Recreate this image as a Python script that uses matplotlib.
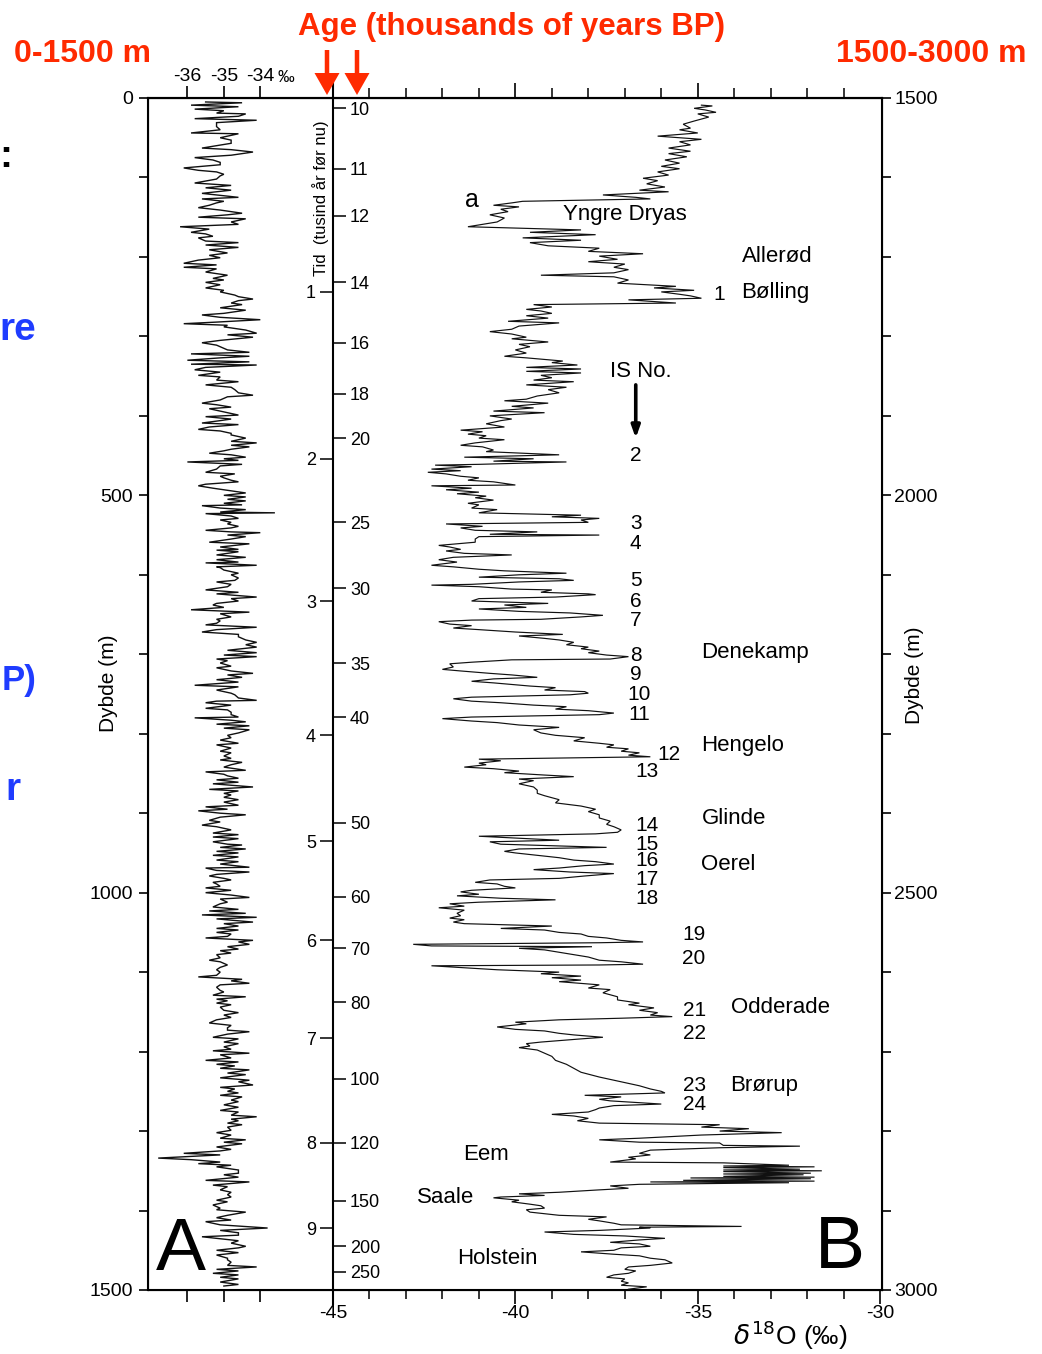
import matplotlib
matplotlib.use("Agg")
import matplotlib.pyplot as plt
from matplotlib.patches import FancyArrow

# =====================================================
# =========       Constants and options       =========
# =====================================================

FIG_W, FIG_H, DPI = 1042, 1354, 100
FRAME_L, FRAME_T, FRAME_R, FRAME_B = 148, 98, 882, 1290   # plot frame, figure pixels
X_AGE_LINE = 333                                           # pixel column of the time scale
RED = "#ff2a00"
BLUE = "#1f3cff"

plt.rcParams["font.family"] = ["Liberation Sans", "DejaVu Sans"]

# Core A: 0-1500 m (Holocene), delta-18O in permil
CORE_A_DEPTH = [
    5, 6, 9, 11, 14, 16, 19, 20, 23, 26, 28, 31, 36, 40, 44, 45, 50, 53, 57, 60,
    63, 65, 68, 72, 75, 78, 81, 84, 88, 91, 93, 96, 98, 102, 107, 110, 113, 116, 120, 125,
    127, 130, 132, 135, 138, 141, 145, 147, 150, 152, 156, 159, 162, 165, 169, 171, 174, 176, 180, 182,
    185, 188, 191, 195, 198, 201, 204, 208, 210, 213, 215, 219, 223, 227, 229, 232, 235, 239, 242, 244,
    248, 250, 253, 255, 258, 260, 264, 267, 271, 273, 276, 279, 282, 284, 286, 288, 292, 296, 298, 301,
    305, 308, 311, 313, 317, 320, 322, 325, 327, 330, 332, 335, 336, 339, 342, 345, 349, 351, 355, 357,
    361, 364, 367, 371, 374, 376, 380, 384, 386, 389, 391, 395, 399, 401, 404, 406, 409, 411, 414, 417,
    419, 422, 424, 428, 432, 434, 437, 439, 442, 444, 447, 449, 452, 454, 456, 458, 461, 463, 467, 471,
    473, 476, 478, 481, 483, 486, 488, 491, 493, 497, 500, 502, 505, 507, 510, 512, 513, 516, 518, 521,
    522, 523, 526, 529, 531, 534, 536, 539, 541, 544, 546, 547, 550, 552, 555, 559, 561, 565, 568, 569,
    571, 575, 578, 581, 584, 585, 588, 590, 591, 594, 598, 600, 604, 607, 609, 612, 615, 619, 622, 624,
    628, 630, 633, 636, 638, 641, 644, 647, 649, 653, 656, 658, 661, 663, 666, 669, 672, 675, 678, 682,
    685, 688, 691, 695, 698, 701, 703, 706, 708, 711, 715, 717, 721, 724, 726, 729, 732, 735, 739, 741,
    745, 749, 751, 755, 758, 759, 761, 764, 768, 770, 773, 776, 779, 780, 783, 785, 788, 790, 793, 795,
    799, 802, 805, 808, 812, 814, 818, 822, 824, 828, 831, 833, 836, 839, 842, 846, 848, 851, 853, 856,
    858, 861, 863, 867, 870, 872, 875, 877, 880, 883, 886, 890, 892, 895, 897, 900, 902, 905, 909, 911,
    915, 917, 921, 925, 927, 930, 932, 936, 939, 940, 943, 945, 948, 950, 953, 955, 959, 961, 964, 968,
    969, 972, 974, 977, 979, 982, 984, 987, 989, 992, 994, 997, 1000, 1003, 1006, 1008, 1012, 1014, 1018, 1021,
    1023, 1026, 1028, 1031, 1033, 1037, 1039, 1042, 1045, 1047, 1050, 1052, 1055, 1057, 1060, 1062, 1065, 1068, 1071, 1073,
    1076, 1078, 1082, 1085, 1087, 1091, 1094, 1097, 1100, 1104, 1106, 1109, 1111, 1114, 1116, 1119, 1123, 1125, 1129, 1131,
    1134, 1136, 1139, 1141, 1144, 1148, 1151, 1154, 1157, 1160, 1164, 1167, 1170, 1173, 1175, 1178, 1182, 1184, 1188, 1190,
    1194, 1197, 1199, 1202, 1204, 1208, 1211, 1213, 1216, 1218, 1221, 1223, 1227, 1229, 1233, 1236, 1238, 1242, 1245, 1247,
    1250, 1252, 1255, 1257, 1261, 1263, 1267, 1270, 1274, 1276, 1280, 1282, 1285, 1287, 1290, 1292, 1295, 1299, 1302, 1305,
    1309, 1311, 1314, 1316, 1320, 1323, 1325, 1328, 1330, 1334, 1336, 1339, 1341, 1343, 1345, 1349, 1353, 1355, 1358, 1362,
    1364, 1368, 1370, 1374, 1377, 1380, 1383, 1387, 1389, 1393, 1397, 1399, 1402, 1406, 1409, 1412, 1414, 1418, 1422, 1425,
    1428, 1431, 1433, 1436, 1438, 1441, 1445, 1447, 1450, 1453, 1456, 1460, 1462, 1465, 1469, 1471, 1474, 1476, 1479, 1481,
    1484, 1486, 1490, 1493, 1495,
]
CORE_A_D18O = [
    -35.5, -34.5, -35.9, -34.6, -35.8, -35.0, -35.2, -34.4, -34.6, -35.8,
    -34.1, -35.2, -35.2, -35.1, -35.9, -34.6, -35.1, -34.8, -34.8, -35.2,
    -35.6, -34.8, -34.2, -34.8, -35.8, -35.3, -35.1, -35.1, -36.1, -35.7,
    -35.2, -35.0, -35.1, -35.2, -35.8, -34.8, -35.5, -34.8, -35.6, -34.6,
    -35.6, -35.0, -35.2, -35.4, -35.7, -35.1, -34.5, -34.9, -35.7, -34.4,
    -34.8, -34.6, -36.2, -35.4, -35.9, -35.5, -35.3, -35.7, -35.5, -34.6,
    -35.5, -34.6, -35.4, -34.9, -35.4, -35.1, -35.7, -36.1, -35.2, -36.1,
    -35.2, -35.5, -34.9, -35.3, -35.0, -35.5, -35.1, -35.5, -35.0, -35.1,
    -34.7, -34.6, -34.2, -34.6, -34.8, -34.5, -35.1, -34.4, -35.0, -35.6,
    -35.1, -34.0, -35.2, -36.1, -34.9, -35.0, -34.4, -34.1, -34.9, -34.2,
    -35.1, -35.6, -35.2, -35.1, -34.9, -34.3, -35.9, -34.3, -35.1, -36.0,
    -34.3, -35.9, -34.1, -35.5, -35.8, -35.1, -35.7, -35.1, -35.2, -34.6,
    -35.5, -34.8, -34.7, -34.6, -34.2, -34.9, -35.1, -35.6, -35.2, -34.8,
    -35.4, -35.0, -34.6, -35.5, -34.8, -35.1, -35.6, -34.6, -35.4, -35.7,
    -35.1, -34.8, -34.8, -34.4, -34.8, -34.1, -34.8, -34.3, -34.8, -35.0,
    -35.4, -34.8, -34.4, -35.0, -34.6, -36.0, -34.5, -35.1, -35.2, -35.5,
    -34.7, -35.1, -35.0, -34.8, -34.6, -35.5, -35.7, -35.3, -35.0, -34.4,
    -35.0, -34.4, -34.9, -34.4, -35.0, -34.5, -35.6, -35.1, -34.4, -35.1,
    -33.6, -35.5, -34.8, -34.6, -35.1, -34.8, -34.9, -34.6, -34.8, -35.5,
    -34.8, -34.0, -34.9, -34.4, -34.8, -35.4, -34.3, -35.1, -34.6, -35.2,
    -34.6, -35.2, -34.4, -35.2, -34.6, -35.5, -34.1, -35.2, -35.1, -35.0,
    -34.6, -34.8, -34.6, -34.7, -35.2, -34.8, -34.9, -35.5, -34.6, -35.2,
    -34.1, -34.8, -34.6, -35.2, -35.3, -35.0, -35.9, -34.3, -35.1, -34.8,
    -35.2, -35.1, -35.2, -35.5, -34.1, -35.2, -35.6, -34.6, -34.6, -34.4,
    -34.1, -34.4, -34.1, -34.9, -34.1, -35.0, -34.1, -35.2, -34.9, -35.1,
    -34.8, -35.2, -34.8, -34.2, -34.9, -34.5, -35.2, -34.6, -35.8, -34.6,
    -35.2, -34.8, -34.7, -34.6, -34.1, -35.2, -35.5, -34.8, -35.5, -34.9,
    -34.8, -34.8, -34.6, -35.8, -34.8, -34.4, -35.2, -34.3, -35.0, -34.3,
    -34.6, -34.9, -34.8, -35.1, -34.6, -35.2, -34.8, -35.1, -34.8, -35.0,
    -34.8, -35.1, -34.5, -34.8, -35.0, -34.4, -35.5, -35.0, -34.9, -34.6,
    -35.2, -34.6, -35.3, -34.2, -35.4, -34.6, -35.0, -34.8, -35.0, -34.6,
    -35.0, -34.6, -35.5, -34.9, -35.7, -35.1, -34.4, -35.1, -35.4, -35.1,
    -35.6, -35.2, -34.8, -35.3, -34.6, -35.3, -34.6, -35.3, -34.9, -34.5,
    -35.1, -34.4, -35.2, -34.6, -35.3, -34.6, -35.2, -34.6, -35.1, -34.3,
    -35.5, -35.2, -34.3, -35.2, -35.4, -35.0, -34.8, -35.3, -35.2, -35.1,
    -35.5, -34.8, -35.5, -34.8, -34.3, -35.1, -34.9, -35.1, -35.3, -34.6,
    -35.4, -34.4, -35.6, -34.1, -35.2, -34.2, -35.0, -34.6, -35.2, -34.6,
    -35.2, -34.8, -34.9, -35.5, -34.2, -34.6, -34.3, -34.9, -34.6, -35.1,
    -34.8, -35.2, -35.1, -35.4, -35.1, -34.9, -35.1, -35.2, -35.1, -35.2,
    -35.7, -34.5, -34.8, -34.3, -35.1, -35.2, -35.1, -35.0, -35.3, -34.4,
    -35.2, -34.9, -35.2, -34.8, -35.1, -35.0, -34.6, -35.0, -34.8, -35.2,
    -35.4, -34.8, -34.9, -34.9, -34.3, -34.9, -35.3, -34.6, -35.0, -34.6,
    -35.0, -34.8, -35.3, -34.3, -35.1, -34.8, -35.5, -34.6, -35.2, -34.7,
    -35.1, -34.3, -34.9, -34.4, -35.1, -34.3, -34.6, -34.2, -35.1, -34.7,
    -34.9, -34.6, -35.1, -34.5, -34.8, -34.6, -35.0, -34.6, -35.1, -34.6,
    -34.8, -34.1, -34.8, -34.6, -34.9, -34.5, -34.9, -34.8, -35.2, -34.8,
    -35.1, -34.4, -35.0, -34.5, -35.2, -34.8, -35.1, -36.1, -35.1, -36.8,
    -35.9, -35.1, -35.7, -34.8, -35.2, -34.6, -34.6, -35.0, -34.6, -35.5,
    -34.3, -35.3, -34.9, -35.1, -34.8, -34.9, -34.8, -35.2, -34.9, -35.3,
    -35.1, -35.2, -34.4, -34.9, -35.2, -34.8, -35.5, -35.1, -33.8, -35.1,
    -34.6, -34.6, -35.6, -35.0, -34.6, -34.8, -34.4, -34.6, -35.2, -34.6,
    -35.2, -34.9, -34.9, -34.8, -34.9, -34.1, -35.2, -34.6, -35.3, -34.6,
    -35.1, -34.6, -35.1, -34.6, -35.0,
]

# Core B: 1500-3000 m (last glacial and older), delta-18O in permil
CORE_B_DEPTH = [
    1509, 1510, 1513, 1515, 1518, 1520, 1524, 1529, 1533, 1538, 1540, 1544, 1548, 1552, 1555, 1559, 1563, 1567, 1570, 1574,
    1578, 1582, 1586, 1589, 1593, 1597, 1601, 1604, 1608, 1612, 1616, 1618, 1622, 1625, 1627, 1630, 1632, 1635, 1637, 1640,
    1643, 1647, 1651, 1656, 1662, 1666, 1669, 1672, 1676, 1679, 1682, 1686, 1689, 1693, 1696, 1699, 1703, 1706, 1709, 1713,
    1716, 1720, 1723, 1725, 1729, 1733, 1737, 1739, 1742, 1744, 1747, 1749, 1752, 1754, 1758, 1760, 1763, 1766, 1768, 1771,
    1774, 1777, 1781, 1783, 1787, 1791, 1794, 1797, 1801, 1803, 1807, 1810, 1813, 1817, 1821, 1825, 1827, 1831, 1833, 1836,
    1839, 1841, 1844, 1846, 1849, 1852, 1855, 1857, 1861, 1864, 1867, 1871, 1875, 1879, 1881, 1884, 1888, 1890, 1894, 1896,
    1900, 1904, 1906, 1910, 1914, 1918, 1920, 1923, 1925, 1928, 1930, 1934, 1937, 1939, 1943, 1945, 1949, 1952, 1954, 1957,
    1958, 1961, 1962, 1964, 1967, 1969, 1971, 1973, 1976, 1978, 1981, 1983, 1987, 1988, 1991, 1993, 1996, 1998, 2001, 2003,
    2006, 2010, 2012, 2016, 2018, 2022, 2025, 2027, 2029, 2031, 2034, 2036, 2039, 2041, 2044, 2046, 2049, 2050, 2052, 2055,
    2059, 2063, 2065, 2068, 2070, 2073, 2075, 2078, 2081, 2084, 2088, 2090, 2093, 2095, 2098, 2100, 2103, 2105, 2107, 2109,
    2112, 2113, 2115, 2118, 2119, 2122, 2124, 2125, 2128, 2130, 2133, 2136, 2138, 2141, 2143, 2146, 2148, 2151, 2153, 2156,
    2157, 2159, 2162, 2164, 2167, 2169, 2172, 2175, 2177, 2180, 2182, 2185, 2188, 2191, 2193, 2196, 2198, 2201, 2203, 2206,
    2207, 2210, 2212, 2216, 2219, 2221, 2224, 2226, 2229, 2231, 2234, 2236, 2240, 2242, 2245, 2247, 2249, 2251, 2254, 2256,
    2259, 2261, 2264, 2266, 2269, 2271, 2274, 2276, 2279, 2281, 2284, 2286, 2289, 2292, 2295, 2299, 2302, 2305, 2309, 2312,
    2314, 2317, 2319, 2322, 2324, 2327, 2329, 2332, 2334, 2337, 2339, 2342, 2344, 2347, 2349, 2352, 2354, 2357, 2359, 2363,
    2367, 2371, 2375, 2378, 2383, 2387, 2391, 2395, 2398, 2402, 2406, 2410, 2414, 2417, 2421, 2424, 2426, 2429, 2431, 2434,
    2436, 2439, 2443, 2445, 2448, 2450, 2454, 2456, 2459, 2461, 2464, 2466, 2469, 2471, 2474, 2476, 2479, 2482, 2484, 2487,
    2489, 2492, 2494, 2497, 2499, 2502, 2504, 2507, 2509, 2512, 2514, 2517, 2519, 2522, 2526, 2529, 2532, 2534, 2537, 2539,
    2542, 2545, 2547, 2550, 2552, 2555, 2557, 2560, 2562, 2563, 2565, 2567, 2568, 2570, 2572, 2575, 2578, 2581, 2585, 2587,
    2590, 2591, 2592, 2595, 2597, 2600, 2602, 2605, 2607, 2610, 2612, 2616, 2620, 2622, 2626, 2631, 2635, 2639, 2641, 2645,
    2648, 2651, 2654, 2656, 2658, 2660, 2663, 2665, 2669, 2672, 2674, 2677, 2679, 2682, 2684, 2688, 2690, 2693, 2695, 2698,
    2702, 2706, 2711, 2716, 2721, 2726, 2732, 2736, 2740, 2743, 2747, 2750, 2752, 2755, 2757, 2760, 2762, 2766, 2768, 2771,
    2773, 2776, 2779, 2781, 2784, 2787, 2790, 2792, 2795, 2797, 2800, 2802, 2805, 2809, 2811, 2814, 2815, 2818, 2819, 2821,
    2824, 2828, 2830, 2833, 2835, 2839, 2840, 2843, 2844, 2845, 2846, 2848, 2849, 2850, 2851, 2853, 2854, 2855, 2857, 2858,
    2859, 2860, 2862, 2863, 2864, 2865, 2867, 2869, 2872, 2874, 2877, 2879, 2881, 2883, 2884, 2887, 2889, 2892, 2894, 2897,
    2899, 2902, 2906, 2908, 2911, 2913, 2916, 2918, 2920, 2921, 2922, 2925, 2927, 2930, 2932, 2935, 2937, 2940, 2942, 2945,
    2947, 2950, 2952, 2955, 2957, 2960, 2962, 2966, 2969, 2971, 2974, 2976, 2979, 2981, 2984, 2986, 2989, 2991, 2994, 2996,
    2999,
]
CORE_B_D18O = [
    -34.9, -34.6, -35.1, -34.8, -34.5, -35.0, -34.7, -35.1, -35.4, -35.2,
    -35.5, -35.0, -36.1, -34.9, -35.5, -35.2, -35.8, -35.2, -35.8, -35.3,
    -35.9, -35.5, -36.0, -35.5, -36.1, -35.8, -36.5, -36.1, -36.4, -35.9,
    -36.6, -35.8, -37.6, -36.7, -36.3, -39.8, -40.1, -40.6, -39.9, -40.4,
    -40.2, -40.7, -40.3, -40.5, -41.3, -38.2, -39.6, -37.8, -39.8, -38.2,
    -39.6, -39.1, -37.7, -38.0, -36.5, -37.7, -37.2, -38.0, -37.0, -37.3,
    -36.9, -37.3, -39.3, -37.3, -36.9, -37.2, -35.6, -36.2, -35.1, -36.0,
    -35.5, -35.2, -34.9, -36.9, -35.6, -39.5, -39.0, -39.7, -39.3, -39.0,
    -39.7, -39.1, -40.2, -38.8, -39.9, -40.1, -40.7, -40.1, -39.7, -40.1,
    -39.1, -39.9, -39.6, -40.0, -39.7, -40.3, -39.7, -38.7, -39.0, -38.3,
    -39.7, -38.2, -39.7, -38.2, -39.3, -39.0, -39.5, -38.4, -39.7, -38.6,
    -39.1, -38.8, -39.4, -39.7, -40.3, -39.1, -40.1, -39.5, -40.6, -39.2,
    -40.7, -40.1, -40.4, -40.8, -40.3, -41.5, -40.9, -41.3, -40.8, -41.0,
    -40.3, -41.1, -41.5, -40.9, -40.6, -40.8, -38.8, -41.4, -39.5, -40.6,
    -38.6, -41.0, -42.2, -41.2, -42.3, -41.5, -42.4, -41.9, -41.5, -41.0,
    -41.3, -40.6, -40.0, -42.3, -41.2, -41.9, -41.0, -41.6, -40.8, -41.1,
    -40.6, -41.3, -41.0, -41.2, -40.5, -41.0, -38.2, -39.0, -37.7, -38.2,
    -38.0, -41.9, -40.9, -41.5, -41.1, -39.4, -40.7, -37.7, -41.0, -41.1,
    -41.1, -42.1, -41.8, -41.5, -41.9, -41.4, -40.1, -41.7, -42.1, -41.6,
    -42.3, -41.7, -41.0, -40.3, -38.6, -39.9, -41.0, -38.8, -38.4, -39.9,
    -41.2, -42.3, -41.0, -40.1, -39.0, -39.3, -38.0, -37.8, -38.9, -41.0,
    -41.2, -39.1, -40.3, -39.7, -41.0, -39.9, -38.5, -37.6, -38.2, -39.3,
    -41.2, -42.1, -41.8, -41.2, -41.7, -41.0, -40.0, -38.7, -39.9, -39.2,
    -38.8, -38.4, -38.6, -38.0, -38.2, -37.7, -38.0, -37.5, -36.9, -37.4,
    -40.1, -41.2, -41.8, -41.7, -42.0, -41.5, -40.7, -40.1, -39.4, -40.6,
    -41.2, -40.6, -39.6, -38.9, -39.2, -38.1, -38.0, -38.5, -41.2, -41.7,
    -41.2, -40.4, -39.5, -38.6, -38.9, -38.0, -37.3, -37.7, -41.2, -42.0,
    -41.2, -40.5, -39.9, -38.8, -39.5, -39.3, -38.9, -38.1, -38.4, -37.7,
    -37.3, -37.5, -36.9, -37.1, -36.6, -36.9, -36.3, -41.0, -40.4, -41.0,
    -40.8, -41.4, -40.6, -39.9, -40.3, -39.2, -38.4, -39.9, -39.5, -39.9,
    -39.5, -39.4, -39.4, -39.2, -38.8, -38.9, -38.2, -37.8, -38.0, -37.7,
    -37.7, -37.4, -37.5, -37.3, -37.1, -37.2, -37.8, -41.0, -40.1, -38.8,
    -40.7, -40.4, -37.5, -39.9, -40.3, -40.0, -39.2, -38.8, -38.4, -37.8,
    -37.3, -38.1, -38.8, -39.5, -38.5, -37.3, -38.1, -38.8, -40.7, -41.1,
    -40.5, -40.3, -40.0, -41.2, -41.5, -41.0, -41.6, -40.4, -38.9, -41.0,
    -41.8, -41.4, -42.1, -41.4, -41.6, -41.5, -41.8, -41.4, -41.7, -41.4,
    -39.0, -40.4, -39.2, -38.8, -38.2, -38.0, -37.5, -37.1, -36.5, -37.7,
    -42.8, -42.3, -37.9, -39.9, -39.2, -38.8, -38.4, -38.0, -37.7, -37.1,
    -36.5, -37.7, -42.3, -41.2, -40.5, -38.8, -39.3, -38.2, -39.0, -38.2,
    -38.8, -37.7, -38.0, -37.4, -37.6, -37.2, -37.2, -36.6, -36.9, -36.2,
    -36.6, -36.1, -36.3, -35.7, -37.1, -38.8, -40.0, -39.7, -40.5, -40.0,
    -39.2, -38.8, -38.4, -37.6, -38.2, -39.3, -39.7, -39.6, -39.9, -39.4,
    -39.2, -39.0, -38.9, -38.6, -38.4, -38.2, -37.7, -37.3, -36.9, -36.6,
    -36.3, -36.0, -35.9, -38.1, -37.1, -37.7, -37.4, -36.0, -37.3, -37.7,
    -37.8, -38.0, -39.0, -38.4, -38.0, -38.3, -37.7, -34.4, -34.9, -33.6,
    -34.4, -32.7, -34.9, -36.6, -37.7, -36.6, -34.4, -34.3, -32.2, -34.4,
    -36.3, -36.6, -36.3, -36.9, -36.7, -37.4, -34.3, -32.5, -34.3, -31.8,
    -34.3, -32.2, -34.3, -31.6, -34.3, -31.9, -34.3, -32.1, -34.3, -31.8,
    -35.2, -31.9, -35.4, -31.8, -36.3, -32.5, -36.6, -37.4, -36.9, -37.7,
    -38.8, -39.9, -39.2, -40.4, -40.6, -39.9, -40.1, -39.6, -39.3, -39.2,
    -39.7, -39.6, -38.8, -37.5, -38.0, -37.7, -37.3, -37.1, -33.8, -36.6,
    -36.3, -37.7, -39.2, -38.4, -37.0, -35.9, -36.6, -37.4, -36.6, -36.3,
    -37.1, -37.3, -38.2, -37.3, -36.6, -36.3, -35.9, -35.7, -36.3, -36.9,
    -37.0, -36.7, -36.9, -37.3, -37.5, -37.0, -37.1, -36.9, -37.1, -36.4,
    -36.9,
]

# Time scale: thousands of years before present at given core depths
AGE_A_KA = [1, 2, 3, 4, 5, 6, 7, 8, 9]
AGE_A_DEPTH = [244, 454, 633, 802, 935, 1060, 1183, 1315, 1422]
AGE_B_KA = [10, 11, 12, 14, 16, 18, 20, 25, 30, 35, 40, 50, 60, 70, 80, 100, 120, 150, 200, 250]
AGE_B_DEPTH = [1513, 1589, 1648, 1732, 1808, 1872, 1928, 2034, 2117, 2211,
               2279, 2412, 2505, 2570, 2638, 2734, 2815, 2888, 2945, 2977]

# Interstadial numbers (label, delta-18O, depth)
IS_LABELS = [
    ("1", -34.4, 1747), ("2", -36.7, 1950), ("3", -36.7, 2035), ("4", -36.7, 2061),
    ("5", -36.7, 2107), ("6", -36.7, 2133), ("7", -36.7, 2158), ("8", -36.7, 2201),
    ("9", -36.7, 2226), ("10", -36.6, 2251), ("11", -36.6, 2276), ("12", -35.8, 2326),
    ("13", -36.4, 2348), ("14", -36.4, 2416), ("15", -36.4, 2439), ("16", -36.4, 2460),
    ("17", -36.4, 2484), ("18", -36.4, 2507), ("19", -35.1, 2553), ("20", -35.1, 2583),
    ("21", -35.1, 2648), ("22", -35.1, 2677), ("23", -35.1, 2743), ("24", -35.1, 2766),
]
# Named climate periods (label, delta-18O, depth, alignment)
PERIOD_LABELS = [
    ("a", -41.2, 1628, "center"), ("Yngre Dryas", -37.0, 1646, "center"),
    ("Allerød", -33.8, 1699, "left"), ("Bølling", -33.8, 1745, "left"),
    ("IS No.", -37.4, 1844, "left"), ("Denekamp", -34.9, 2198, "left"),
    ("Hengelo", -34.9, 2315, "left"), ("Glinde", -34.9, 2407, "left"),
    ("Oerel", -34.9, 2464, "left"), ("Odderade", -34.1, 2644, "left"),
    ("Brørup", -34.1, 2743, "left"), ("Eem", -40.8, 2829, "center"),
    ("Saale", -41.9, 2883, "center"), ("Holstein", -40.5, 2960, "center"),
]


# =====================================================
# =========           Functions               =========
# =====================================================

def fx(px):
    return px / FIG_W


def fy(py):
    return 1 - py / FIG_H


def frame_rect():
    return [fx(FRAME_L), fy(FRAME_B), (FRAME_R - FRAME_L) / FIG_W, (FRAME_B - FRAME_T) / FIG_H]


def pt(px):
    return px * 72 / DPI


def hide_frame(ax):
    ax.patch.set_visible(False)
    for spine in ax.spines.values():
        spine.set_visible(False)


def add_time_scale(fig):
    """Zero-width axes on the -45 line carrying both time scales."""
    axt = fig.add_axes([fx(X_AGE_LINE), fy(FRAME_B), 1e-6, (FRAME_B - FRAME_T) / FIG_H])
    hide_frame(axt)
    axt.set_xticks([])
    axt.set_ylim(1500, 0)
    axt.set_yticks(AGE_A_DEPTH, [str(k) for k in AGE_A_KA])
    axt.tick_params(axis="y", direction="out", length=pt(13), width=1.1, pad=pt(4), labelsize=13)

    axr = axt.twinx()
    hide_frame(axr)
    axr.set_ylim(3000, 1500)
    axr.set_yticks(AGE_B_DEPTH, [str(k) for k in AGE_B_KA])
    axr.tick_params(axis="y", direction="out", length=pt(13), width=1.1, pad=pt(4), labelsize=13)


def draw_core_b(fig):
    ax = fig.add_axes(frame_rect())
    ax.set_xlim(-50.07, -29.95)
    ax.set_ylim(1500, 0)
    for spine in ax.spines.values():
        spine.set_linewidth(1.5)

    # delta axis along the bottom
    minor = [v for v in range(-44, -30) if v % 5]
    ax.set_xticks([-45, -40, -35, -30], ["-45", "-40", "-35", "-30"])
    ax.set_xticks(minor, minor=True)
    ax.tick_params(axis="x", which="major", direction="out", length=pt(14), width=1.2,
                   pad=1, labelsize=14)
    ax.tick_params(axis="x", which="minor", direction="out", length=pt(9), width=1.1)

    # same scale repeated along the top, without the corner ticks
    top = ax.secondary_xaxis("top")
    top.set_xticks([-40, -35], ["", ""])
    top.set_xticks(minor, minor=True)
    top.tick_params(axis="x", which="major", direction="out", length=pt(15), width=1.2)
    top.tick_params(axis="x", which="minor", direction="out", length=pt(10), width=1.1)
    top.spines["top"].set_linewidth(1.5)

    # depth of core A on the left
    ax.set_yticks([0, 500, 1000, 1500], ["0", "500", "1000", "1500"])
    ax.set_yticks(range(0, 1501, 100), minor=True)
    ax.tick_params(axis="y", which="both", direction="out", length=pt(9), width=1.2,
                   pad=pt(6), labelsize=14)

    # depth of core B on the right
    axb = ax.twinx()
    axb.set_ylim(3000, 1500)
    axb.set_yticks([1500, 2000, 2500, 3000], ["1500", "2000", "2500", "3000"])
    axb.set_yticks(range(1500, 3001, 100), minor=True)
    axb.tick_params(axis="y", which="both", direction="out", length=pt(9), width=1.2,
                    pad=pt(3), labelsize=14)

    axb.plot(CORE_B_D18O, CORE_B_DEPTH, color="#111111", lw=0.85, solid_joinstyle="miter")

    # the -45 line doubles as the time scale spine
    ax.axvline(-45, ymin=-0.012, ymax=1 + 15 / (FRAME_B - FRAME_T), color="black",
               lw=1.5, clip_on=False)

    for text, x, depth in IS_LABELS:
        axb.text(x, depth, text, ha="center", va="center", fontsize=15)
    for text, x, depth, ha in PERIOD_LABELS:
        axb.text(x, depth, text, ha=ha, va="center", fontsize=18 if text == "a" else 16)

    axb.annotate("", xy=(-36.7, 1928), xytext=(-36.7, 1861),
                 arrowprops=dict(arrowstyle="-|>,head_length=0.7,head_width=0.25",
                                 color="black", lw=2.6, shrinkA=0, shrinkB=0))
    return ax


def draw_core_a(fig):
    axa = fig.add_axes(frame_rect())
    axa.set_frame_on(False)
    axa.set_xlim(-37.08, -16.95)
    axa.set_ylim(1500, 0)
    axa.set_yticks([])
    axa.set_xticks([-36, -35, -34], ["-36", "-35", "-34"])
    axa.tick_params(axis="x", direction="out", length=pt(12), width=1.2, top=True,
                    labeltop=True, labelbottom=False, pad=1, labelsize=14)
    axa.plot(CORE_A_D18O, CORE_A_DEPTH, color="#111111", lw=1.0, solid_joinstyle="miter")
    return axa


def draw_headings(fig):
    fig.text(fx(277), fy(77), "‰", fontsize=12, ha="left", va="center")
    fig.text(fx(321), fy(198), "Tid  (tusind år før nu)", rotation=90,
             fontsize=12, ha="center", va="center")
    fig.text(fx(108), fy(683), "Dybde (m)", rotation=90, fontsize=15, ha="center", va="center")
    fig.text(fx(915), fy(675), "Dybde (m)", rotation=90, fontsize=15, ha="center", va="center")
    fig.text(fx(181), fy(1250), "A", fontsize=54, ha="center", va="center")
    fig.text(fx(840), fy(1248), "B", fontsize=54, ha="center", va="center")
    fig.text(fx(790), fy(1335), r"$\delta^{18}$O (‰)", fontsize=19, ha="center", va="center")

    fig.text(fx(511), fy(35), "Age (thousands of years BP)", color=RED,
             fontsize=22.5, fontweight="bold", ha="center", va="baseline")
    fig.text(fx(14), fy(62), "0-1500 m", color=RED, fontsize=23,
             fontweight="bold", ha="left", va="baseline")
    fig.text(fx(1026), fy(62), "1500-3000 m", color=RED, fontsize=23,
             fontweight="bold", ha="right", va="baseline")
    for x_px in (327, 357):
        fig.add_artist(FancyArrow(x_px / DPI, (FIG_H - 50) / DPI, 0, -0.45,
                                  width=0.045, head_width=0.25, head_length=0.22,
                                  length_includes_head=True, color=RED, lw=0,
                                  transform=fig.dpi_scale_trans))

    # slide text running in from the left edge
    fig.text(fx(12), fy(157), ":", fontsize=28, fontweight="bold", ha="right", va="center")
    fig.text(fx(36), fy(330), "re", color=BLUE, fontsize=28, fontweight="bold",
             ha="right", va="center")
    fig.text(fx(36), fy(680), "P)", color=BLUE, fontsize=25, fontweight="bold",
             ha="right", va="center")
    fig.text(fx(20), fy(790), "r", color=BLUE, fontsize=28, fontweight="bold",
             ha="right", va="center")


# =====================================================
# =========              Main                 =========
# =====================================================

def main():
    fig = plt.figure(figsize=(FIG_W / DPI, FIG_H / DPI), dpi=DPI)
    draw_core_b(fig)
    draw_core_a(fig)
    add_time_scale(fig)
    draw_headings(fig)
    fig.savefig("out.png", dpi=DPI, facecolor="white")
    plt.close(fig)


if __name__ == "__main__":
    main()
